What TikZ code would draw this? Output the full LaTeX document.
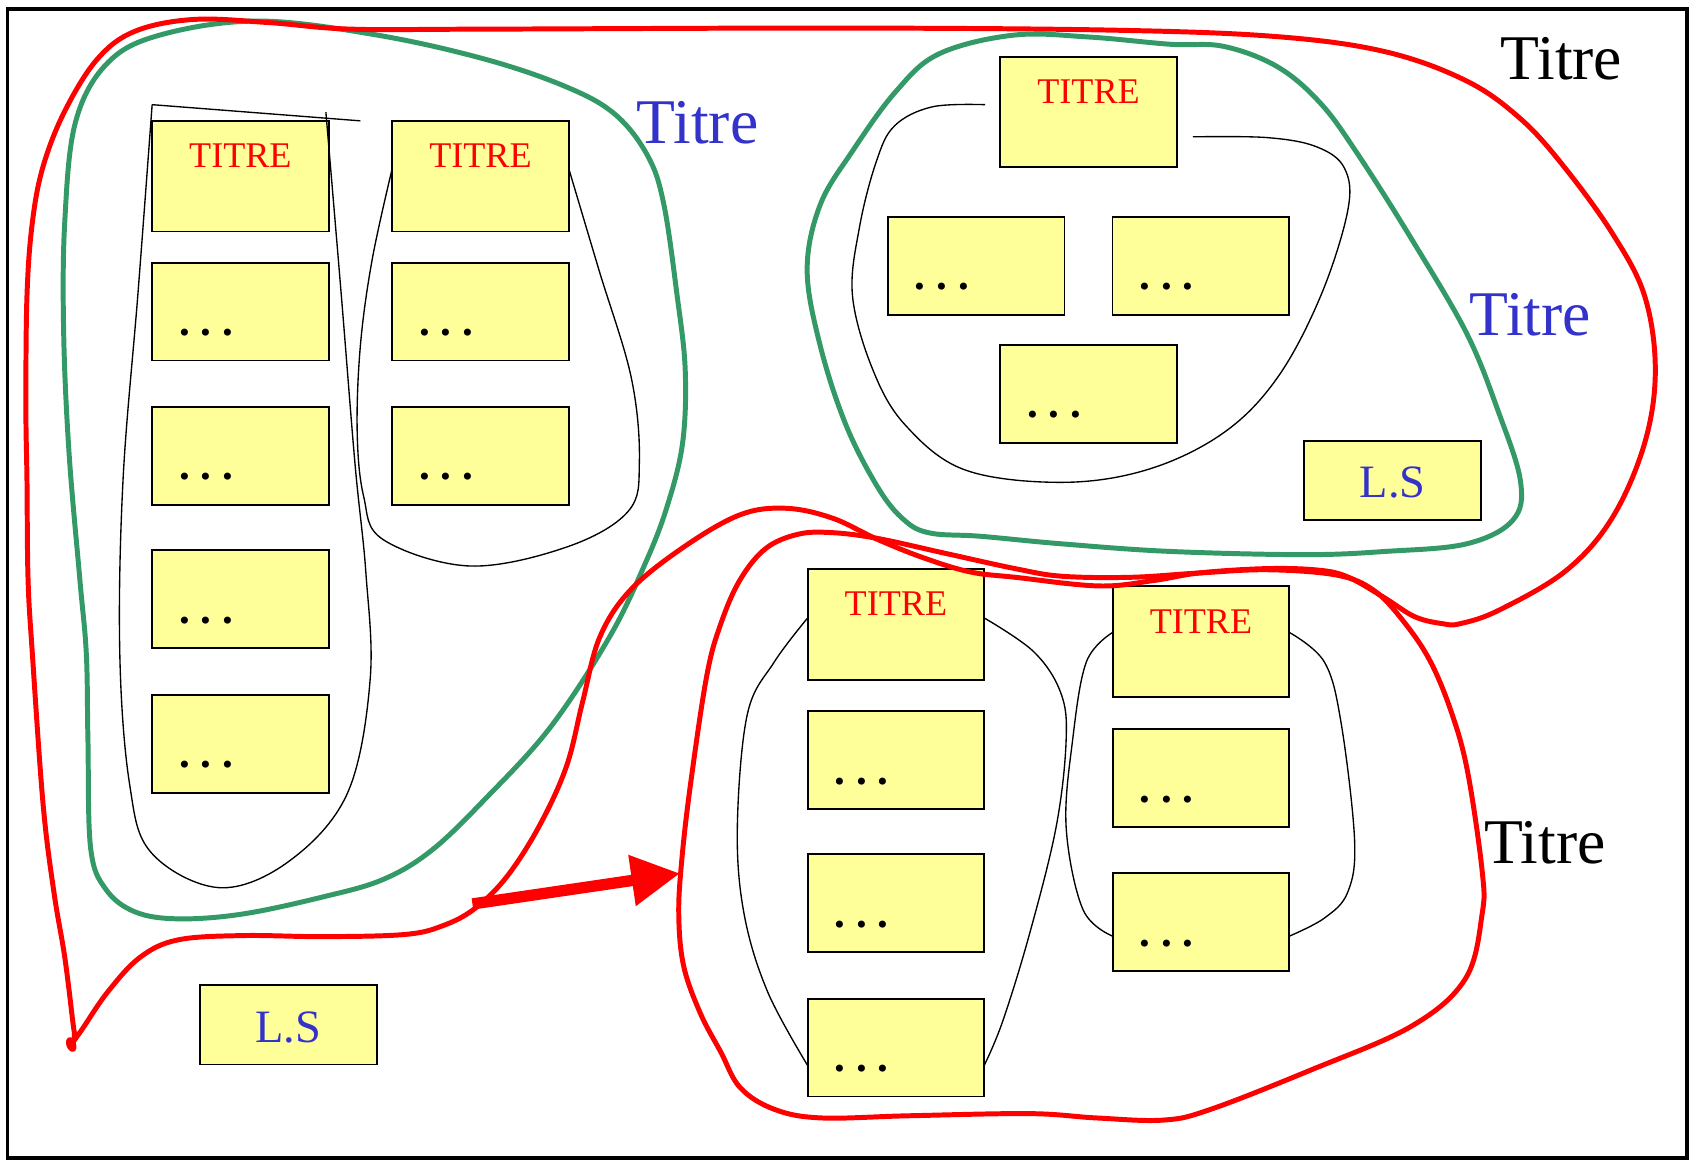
\documentclass[tikz,border=0pt]{standalone}
\usepackage{fontspec}
\setmainfont{Liberation Serif}
\usetikzlibrary{arrows.meta,calc}
\definecolor{boxyellow}{RGB}{255,255,153}
\definecolor{lsblue}{RGB}{51,51,204}
\definecolor{grn}{RGB}{51,153,102}
\begin{document}
\begin{tikzpicture}[x=1pt,y=-1pt,
 box/.style={draw=black, line width=1.7pt, fill=boxyellow, minimum width=163.5pt, inner sep=0pt, outer sep=0pt, anchor=north west},
 tbox/.style={box, minimum height=102.5pt},
 dbox/.style={box, minimum height=90.7pt},
 lbox/.style={box, minimum height=73.5pt},
 ttl/.style={text=red, font=\fontsize{33.5pt}{40pt}\selectfont, anchor=base, inner sep=0pt},
 dts/.style={font=\bfseries\fontsize{40pt}{40pt}\selectfont, anchor=base west, inner sep=0pt},
 lst/.style={text=lsblue, font=\fontsize{43pt}{50pt}\selectfont, anchor=base, inner sep=0pt},
 big/.style={font=\fontsize{59pt}{70pt}\selectfont, anchor=base west, inner sep=0pt},
 thinline/.style={black, line width=1.25pt},
 grline/.style={grn, line width=4.6pt, line join=round},
 rdline/.style={red, line width=4.6pt, line join=round},
]
\useasboundingbox (0,0) rectangle (1568,1075);
\fill[white] (0,0) rectangle (1568,1075);
\draw[line width=3.5pt] (7,8.5) rectangle (1563,1073);

% ---------- boxes ----------
\node[tbox] (L1t) at (141,112) {};
\node[dbox] (L1a) at (141,243.4) {};
\node[dbox] (L1b) at (141,377) {};
\node[dbox] (L1c) at (141,510) {};
\node[dbox] (L1d) at (141,643.8) {};
\node[tbox] (L2t) at (363.5,112) {};
\node[dbox] (L2a) at (363.5,243.4) {};
\node[dbox] (L2b) at (363.5,377) {};
\node[tbox] (Rt) at (927,52.5) {};
\node[dbox] (Ra) at (823,201) {};
\node[dbox] (Rb) at (1031,201) {};
\node[dbox] (Rc) at (927,319.5) {};
\node[lbox] (Rls) at (1208.8,408.6) {};
\node[tbox] (At) at (748.5,527.3) {};
\node[dbox] (Aa) at (748.5,659.1) {};
\node[dbox] (Ab) at (748.5,791.7) {};
\node[dbox] (Ac) at (748.5,925.5) {};
\node[tbox] (Bt) at (1031.2,543.4) {};
\node[dbox] (Ba) at (1031.2,675.6) {};
\node[dbox] (Bb) at (1031.2,809) {};
\node[lbox] (Lls) at (185.5,913) {};

% ---------- black enclosures ----------
\draw[thinline] (334,112) -- (L1t.north west |- 0,97)
  plot[smooth, tension=0.6] coordinates {(141,97) (128,270) (114,445) (111,605) (120,726) (140,790) (203,822.6) (268,798) (322,735) (343,630) (339,530) (329,430) (316,270) (302,104)};
\draw[thinline] plot[smooth, tension=0.6] coordinates {($(L2t.north west)+(0,44)$) (345,240) (334,320) (331,400) (337,460) (355,500) (435,524.5) (525,507) (582,474) (592.5,428.5) (585,350) (555,250) ($(L2t.north east)+(0,44)$)};
\draw[thinline] plot[smooth, tension=0.6] coordinates {($(Rt.north west)+(-14,44.5)$) (864,99) (829,116.6) (812,150) (796.6,210) (790,274) (809,343) (839,394) (894,435.4) (984,447) (1064,435) (1134,401) (1184,349.7) (1224,274) (1249,195) (1246,156) (1220,136) (1174,127.5) ($(Rt.north east)+(15,74.3)$)};
\draw[thinline] plot[smooth, tension=0.6] coordinates {($(At.north west)+(0,45.3)$) (717.5,613.5) (692.6,661.7) (683.3,766.5) (689.5,846.7) (711.3,919) ($(Ac.north west)+(0,62)$)};
\draw[thinline] plot[smooth, tension=0.6] coordinates {($(At.north east)+(0,45.3)$) (958,604) (983,642) (988,685.8) (978.7,766.5) (953.7,866.8) (929,947) ($(Ac.north east)+(0,62)$)};
\draw[thinline] plot[smooth, tension=0.6] coordinates {($(Bt.north west)+(0,42.6)$) (1006.7,613.5) (994,685.8) (988,766.5) (1003.5,842.7) ($(Bb.north west)+(0,58.6)$)};
\draw[thinline] plot[smooth, tension=0.6] coordinates {($(Bt.north east)+(0,42.6)$) (1227.3,613.5) (1242.8,669.9) (1255.3,778.5) (1249,826.7) (1227.3,850.8) ($(Bb.north east)+(0,58.6)$)};

% ---------- green ----------
\draw[grline] plot[smooth cycle, tension=0.6] coordinates {(240,19.5) (350,32.6) (450,55) (525,80.6) (570,106) (600,144) (615,188.5) (627.5,274) (635,343) (632.5,411) (618,470) (598,522) (565,590) (510,674) (450,740) (400,788) (355,815) (300,831) (225,847) (165,851.5) (125,845) (98,824) (84,786) (81.5,686) (80,606) (74,537) (64,420) (59,308.5) (60,206) (70,113) (100,58) (150,32)};
\draw[grline] plot[smooth cycle, tension=0.6] coordinates {(939,32.6) (1009,34.3) (1084,41) (1134,43) (1184,62) (1224,96) (1259,144) (1309,223) (1359,308.6) (1388,380) (1409,445.7) (1402,482) (1359,504) (1284,511) (1209,514) (1084,511) (984,504) (909,497) (862,494) (838,482) (814,452.5) (784,394) (760,320) (748,250) (760,190) (790,140) (830,85) (870,50)};

% ---------- red ----------
\coordinate (blob) at (66,968);
\draw[rdline] plot[smooth, tension=0.6] coordinates {(blob) (76,954) (100,919) (130,887) (165,871) (225,867) (300,868) (375,866) (410,858) (440,842) (470,812) (500,765) (525,710) (540,650) (556,590) (585,546) (635,506) (686,477) (728,471) (771,480) (813.5,500) (856,517) (899,530) (941,535) (1018,543) (1069,538) (1111,531) (1171,527) (1218,528) (1247.5,534) (1281.5,553) (1311,571.5) (1337,578) (1353,578) (1389,565.5) (1451,529) (1494,480) (1524,411) (1534,343) (1524,274) (1494,216) (1449,154) (1409,110) (1359,75) (1284,48) (1184,34) (1034,28) (784,26) (450,27) (325,27) (250,21) (180,18) (125,29) (90,55) (60,103) (40,154) (30,206) (25,274) (24,377) (25,445) (26,537) (30,606) (40,746) (50,827) (60,887) (67.5,947) (69,960) (blob)};
\fill[red, rotate around={20:(blob)}] (blob) ellipse [x radius=4.5pt, y radius=7pt];
\draw[rdline] plot[smooth cycle, tension=0.6] coordinates {(640,726) (655,626) (668,578) (686,537) (710,508) (740,495) (771,493.6) (813.5,499) (877,513) (941,527) (984,534) (1047.5,535) (1111,531) (1175,528) (1239,533) (1273,547) (1300,575) (1325,612) (1345,660) (1360,715) (1373.5,807) (1373.5,847) (1358,907) (1308,951) (1215,991.5) (1122,1028) (1078,1038) (1016,1036) (954,1032) (842,1034) (761,1036) (717.5,1028) (686,1008) (668,975) (649,939) (633.5,895) (629,847) (632,795)};
\coordinate (arrS) at (437.8,837.7);
\coordinate (arrE) at (630.2,809.4);
\draw[red, line width=10.5pt, -{Triangle[width=45pt,length=45pt]}] (arrS) -- (arrE);

% ---------- texts ----------
\foreach \b in {L1t,L2t,Rt,At,Bt} {
  \node[ttl] (\b-txt) at ($(\b.north)+(0,43.5)$) {TITRE};
}
\foreach \b in {L1a,L1b,L1c,L1d,L2a,L2b,Ra,Rb,Rc,Aa,Ab,Ac,Ba,Bb} {
  \node[dts] (\b-txt) at ($(\b.south west)+(24.7,-23)$) {.\ .\ .};
}
\node[lst] (Rls-txt) at ($(Rls.north)+(0,52.5)$) {L.S};
\node[lst] (Lls-txt) at ($(Lls.north)+(0,53.5)$) {L.S};
\node[big, text=lsblue] (T1) at (590,133) {Titre};
\node[big] (T2) at (1390.5,73.7) {Titre};
\node[big, text=lsblue] (T3) at (1361.6,311.3) {Titre};
\node[big] (T4) at (1375.3,800.6) {Titre};
\end{tikzpicture}
\end{document}
